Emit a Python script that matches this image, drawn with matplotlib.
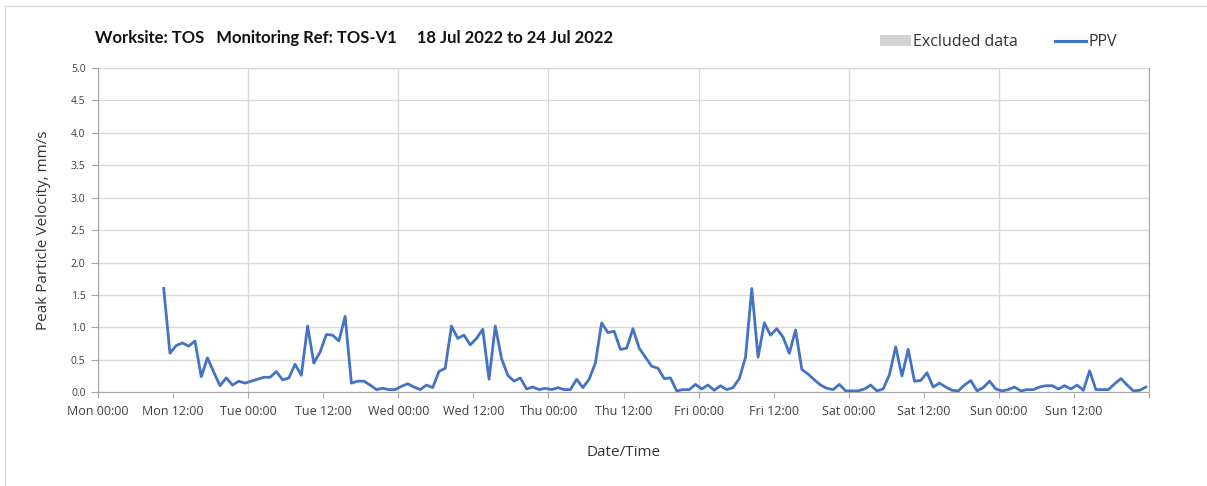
import matplotlib
matplotlib.use("Agg")
import matplotlib.pyplot as plt
import matplotlib.dates as mdates
from matplotlib.patches import Patch
from matplotlib.lines import Line2D
import pandas as pd

# hourly PPV readings, first reading Mon 18 Jul 2022 10:30
start_time = "2022-07-18 10:30"
ppv = [
    # Mon 10:30 - 23:30
    1.60, 0.60, 0.72, 0.76, 0.71, 0.79, 0.24, 0.53, 0.31, 0.10, 0.22, 0.11, 0.17, 0.14,
    # Tue
    0.17, 0.20, 0.23, 0.23, 0.32, 0.19, 0.22, 0.43, 0.26, 1.02, 0.45, 0.62,
    0.89, 0.88, 0.79, 1.17, 0.14, 0.17, 0.17, 0.11, 0.04, 0.06, 0.04, 0.04,
    # Wed
    0.09, 0.13, 0.08, 0.04, 0.11, 0.07, 0.32, 0.37, 1.02, 0.83, 0.88, 0.73,
    0.83, 0.97, 0.20, 1.02, 0.52, 0.26, 0.17, 0.22, 0.05, 0.08, 0.04, 0.06,
    # Thu
    0.04, 0.07, 0.04, 0.04, 0.20, 0.07, 0.20, 0.45, 1.07, 0.92, 0.94, 0.66,
    0.68, 0.98, 0.68, 0.54, 0.40, 0.37, 0.21, 0.22, 0.02, 0.04, 0.04, 0.12,
    # Fri
    0.05, 0.11, 0.03, 0.10, 0.04, 0.07, 0.21, 0.54, 1.60, 0.54, 1.07, 0.88,
    0.98, 0.85, 0.60, 0.96, 0.35, 0.28, 0.19, 0.11, 0.06, 0.04, 0.12, 0.02,
    # Sat
    0.02, 0.02, 0.05, 0.11, 0.02, 0.05, 0.27, 0.70, 0.25, 0.66, 0.17, 0.18,
    0.30, 0.08, 0.14, 0.08, 0.03, 0.02, 0.11, 0.18, 0.02, 0.07, 0.17, 0.05,
    # Sun
    0.02, 0.04, 0.08, 0.02, 0.04, 0.04, 0.08, 0.10, 0.10, 0.05, 0.10, 0.05,
    0.11, 0.03, 0.33, 0.04, 0.04, 0.04, 0.13, 0.21, 0.11, 0.02, 0.03, 0.08,
]
times = pd.date_range(start_time, periods=len(ppv), freq="h")

x_start = pd.Timestamp("2022-07-18 00:00")
x_end = pd.Timestamp("2022-07-25 00:00")
y_ticks = [0.0, 0.5, 1.0, 1.5, 2.0, 2.5, 3.0, 3.5, 4.0, 4.5, 5.0]

title = "Worksite: TOS   Monitoring Ref: TOS-V1     18 Jul 2022 to 24 Jul 2022"

plt.rcParams["font.family"] = ["Open Sans", "DejaVu Sans"]

fig = plt.figure(figsize=(12.07, 4.86), dpi=100)
ax = fig.add_axes([0.0812, 0.193, 0.8708, 0.667])

# faint frame on the left and top edges of the chart
fig.add_artist(Line2D([0.0045, 0.0045], [0.0, 0.988], transform=fig.transFigure,
                      color="#d9d9d9", linewidth=1.0))
fig.add_artist(Line2D([0.0045, 1.0], [0.988, 0.988], transform=fig.transFigure,
                      color="#d9d9d9", linewidth=1.0))

ax.plot(times, ppv, color="#4472C4", linewidth=2.0, zorder=3)

ax.set_xlim(x_start, x_end)
ax.set_ylim(0, 5)
ax.set_yticks(y_ticks)
ax.set_yticklabels([f"{v:.1f}" for v in y_ticks])

end_num = mdates.date2num(x_end)


def tick_label(x, pos=None):
    if abs(x - end_num) < 1e-6:
        return ""
    return mdates.num2date(x).strftime("%a %H:%M")


ax.xaxis.set_major_locator(mdates.HourLocator(byhour=[0]))
ax.xaxis.set_minor_locator(mdates.HourLocator(byhour=[12]))
ax.xaxis.set_major_formatter(tick_label)
ax.xaxis.set_minor_formatter(tick_label)

ax.grid(axis="y", color="#d9d9d9", linewidth=1.0, zorder=0)
ax.grid(axis="x", which="major", color="#d9d9d9", linewidth=1.0, zorder=0)

for side in ["left", "bottom", "right"]:
    ax.spines[side].set_color("#a6a6a6")
ax.spines["top"].set_visible(False)

ax.tick_params(axis="y", colors="#a6a6a6", labelcolor="#404040", labelsize=7.5,
               length=5, pad=4)
ax.tick_params(axis="x", which="both", colors="#a6a6a6", labelcolor="#404040",
               labelsize=9, length=4, pad=5)

ax.set_ylabel("Peak Particle Velocity, mm/s", fontsize=11, color="#333333", labelpad=14)
ax.set_xlabel("Date/Time", fontsize=11, color="#333333", labelpad=20)

fig.text(0.079, 0.922, title, fontsize=12, fontweight="bold", color="#111111",
         family=["Lato", "DejaVu Sans"], va="center", ha="left")

handles = [Patch(facecolor="#d3d3d3", edgecolor="none", label="Excluded data"),
           Line2D([0], [0], color="#4472C4", linewidth=2.2, label="PPV")]
fig.legend(handles=handles, loc="center right", bbox_to_anchor=(0.937, 0.913),
           ncol=2, frameon=False, fontsize=11.5, handlelength=2.0, handleheight=0.7,
           columnspacing=2.3, handletextpad=0.1, labelcolor="#333333")

fig.savefig("out.png", dpi=100)
